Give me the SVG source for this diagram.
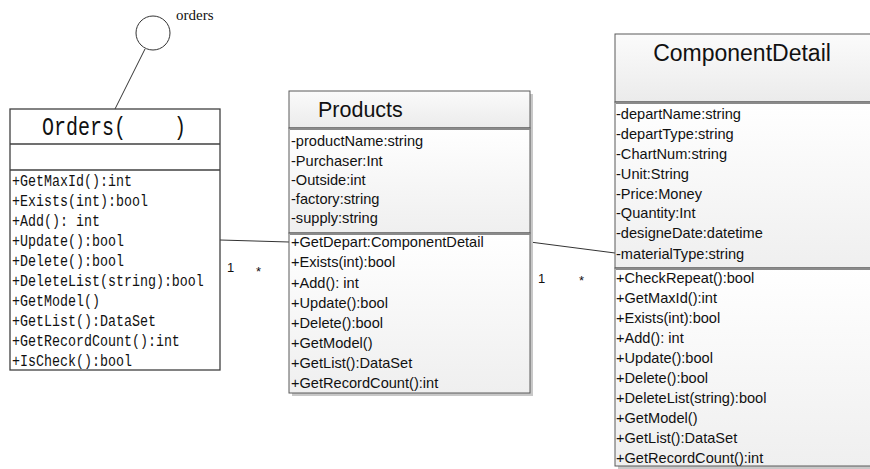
<svg xmlns="http://www.w3.org/2000/svg" width="870" height="469" viewBox="0 0 870 469">
<defs>
<linearGradient id="gHead" x1="0" y1="0" x2="0" y2="1">
<stop offset="0" stop-color="#fbfbfb"/><stop offset="1" stop-color="#ebebeb"/>
</linearGradient>
<linearGradient id="gBody" x1="0" y1="0" x2="0" y2="1">
<stop offset="0" stop-color="#ffffff"/><stop offset="1" stop-color="#efefef"/>
</linearGradient>
</defs>
<style>
.ob{fill:#fff;stroke:#404040;stroke-width:1.3}
.shadow{fill:#c8c8c8}
.hd{fill:url(#gHead);stroke:#5a5a5a;stroke-width:1}
.bd{fill:url(#gBody);stroke:#5a5a5a;stroke-width:1}
.sep{stroke:#8a8a8a;stroke-width:2}
.ln{stroke:#333;stroke-width:1;fill:none}
.om{font-family:"Liberation Mono",monospace;font-size:13.33px;fill:#111}
.ot{font-family:"Liberation Mono",monospace;font-size:20px;fill:#111}
.m{font-family:"Liberation Sans",Arial,sans-serif;font-size:14.6px;fill:#111}
.t{font-family:"Liberation Sans",Arial,sans-serif;fill:#111}
.lbl{font-family:"Liberation Sans",Arial,sans-serif;font-size:13px;fill:#111}
.ol{font-family:"Liberation Serif",serif;font-size:15px;fill:#111}
</style>

<g id="interface-orders">
<circle cx="153" cy="33" r="17" fill="#fff" stroke="#333" stroke-width="1"/>
<text class="ol" x="176" y="20">orders</text>
</g>

<g id="connectors">
<line class="ln" x1="145" y1="49" x2="115" y2="109"/>
<line class="ln" x1="220" y1="240" x2="289" y2="242"/>
<line class="ln" x1="530" y1="242" x2="615" y2="253"/>
<text class="lbl" x="227" y="272">1</text>
<text class="lbl" x="256" y="276">*</text>
<text class="lbl" x="538" y="283">1</text>
<text class="lbl" x="579" y="285">*</text>
</g>

<g id="Orders">
<rect class="ob" x="10" y="109" width="210" height="261"/>
<line x1="10" y1="144" x2="220" y2="144" stroke="#404040" stroke-width="1.3"/>
<line x1="10" y1="170" x2="220" y2="170" stroke="#404040" stroke-width="1.3"/>
<g transform="scale(1,1.25)">
<text class="ot" x="42" y="108.4">Orders(</text>
<text class="ot" x="174" y="108.4">)</text>
<text class="om" x="12" y="148.8">+GetMaxId():int</text>
<text class="om" x="12" y="164.8">+Exists(int):bool</text>
<text class="om" x="12" y="180.8">+Add(): int</text>
<text class="om" x="12" y="196.8">+Update():bool</text>
<text class="om" x="12" y="212.8">+Delete():bool</text>
<text class="om" x="12" y="228.8">+DeleteList(string):bool</text>
<text class="om" x="12" y="244.8">+GetModel()</text>
<text class="om" x="12" y="260.8">+GetList():DataSet</text>
<text class="om" x="12" y="276.8">+GetRecordCount():int</text>
<text class="om" x="12" y="292.8">+IsCheck():bool</text>
</g>
</g>

<g id="Products">
<rect class="shadow" x="292" y="94" width="241" height="302"/>
<rect class="hd" x="289" y="91" width="241" height="37"/>
<rect class="bd" x="289" y="128" width="241" height="105"/>
<rect class="bd" x="289" y="233" width="241" height="160"/>
<line class="sep" x1="290" y1="129" x2="530" y2="129"/>
<line class="sep" x1="290" y1="234" x2="530" y2="234"/>
<text class="t" x="318" y="117" font-size="21.5">Products</text>
<text class="m" x="291" y="146">-productName:string</text>
<text class="m" x="291" y="166">-Purchaser:Int</text>
<text class="m" x="291" y="185">-Outside:int</text>
<text class="m" x="291" y="204">-factory:string</text>
<text class="m" x="291" y="223">-supply:string</text>
<text class="m" x="291" y="247">+GetDepart:ComponentDetail</text>
<text class="m" x="291" y="267">+Exists(int):bool</text>
<text class="m" x="291" y="288">+Add(): int</text>
<text class="m" x="291" y="308">+Update():bool</text>
<text class="m" x="291" y="328">+Delete():bool</text>
<text class="m" x="291" y="348">+GetModel()</text>
<text class="m" x="291" y="368">+GetList():DataSet</text>
<text class="m" x="291" y="388">+GetRecordCount():int</text>
</g>

<g id="ComponentDetail">
<rect class="shadow" x="618" y="37" width="260" height="432"/>
<rect class="hd" x="615" y="34" width="260" height="68"/>
<rect class="bd" x="615" y="102" width="260" height="166"/>
<rect class="bd" x="615" y="268" width="260" height="198"/>
<line class="sep" x1="616" y1="103" x2="870" y2="103"/>
<line class="sep" x1="616" y1="269" x2="870" y2="269"/>
<text class="t" x="742" y="61" font-size="23" text-anchor="middle">ComponentDetail</text>
<text class="m" x="616" y="119">-departName:string</text>
<text class="m" x="616" y="139">-departType:string</text>
<text class="m" x="616" y="159">-ChartNum:string</text>
<text class="m" x="616" y="179">-Unit:String</text>
<text class="m" x="616" y="199">-Price:Money</text>
<text class="m" x="616" y="218">-Quantity:Int</text>
<text class="m" x="616" y="238">-designeDate:datetime</text>
<text class="m" x="616" y="259">-materialType:string</text>
<text class="m" x="616" y="283">+CheckRepeat():bool</text>
<text class="m" x="616" y="303">+GetMaxId():int</text>
<text class="m" x="616" y="323">+Exists(int):bool</text>
<text class="m" x="616" y="343">+Add(): int</text>
<text class="m" x="616" y="363">+Update():bool</text>
<text class="m" x="616" y="383">+Delete():bool</text>
<text class="m" x="616" y="403">+DeleteList(string):bool</text>
<text class="m" x="616" y="423">+GetModel()</text>
<text class="m" x="616" y="443">+GetList():DataSet</text>
<text class="m" x="616" y="463">+GetRecordCount():int</text>
</g>
</svg>
